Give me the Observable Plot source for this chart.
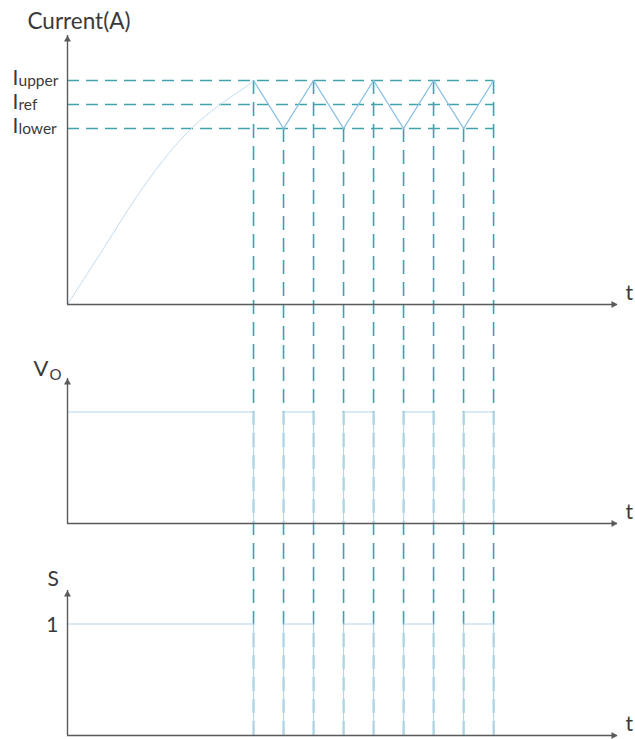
<!DOCTYPE html>
<html>
<head>
<meta charset="utf-8">
<script src="https://cdn.jsdelivr.net/npm/d3@7"></script>
<script src="https://cdn.jsdelivr.net/npm/@observablehq/plot@0.6"></script>
<style>
  html, body { margin: 0; padding: 0; background: #fff; }
  #chart { position: relative; width: 635px; height: 739px; overflow: hidden; background: #fff; }
  #chart svg { position: absolute; left: 0; }
</style>
</head>
<body>
<div id="chart"></div>
<script>
// Hysteresis (bang-bang) current control: inductor current, output voltage and switch state.

// Current band: upper limit, reference, lower limit (A)
const levelNames = ["upper", "ref", "lower"];
const levelValues = [11.2, 10, 8.8];

// Start-up rise of the current (time, A)
const rampT = [0, 1.2, 2.4, 3.4, 4.2, 5.0, 6.0, 6.2];
const rampI = [0, 2.8, 5.6, 7.6, 8.9, 9.9, 10.95, 11.2];

// Switching instants and the current reached at each one
const switchT = [6.2, 7.2, 8.2, 9.2, 10.2, 11.2, 12.2, 13.2, 14.2];
const switchI = [11.2, 8.8, 11.2, 8.8, 11.2, 8.8, 11.2, 8.8, 11.2];

// Switch state S (Vo follows it, per unit) holding from each instant onward
const stepT = [0, 6.2, 7.2, 8.2, 9.2, 10.2, 11.2, 12.2, 13.2, 14.2];
const stepS = [1, 0, 1, 0, 1, 0, 1, 0, 1, 0];

const tMax = 18.33;
const iMax = 13.45;
const vMax = 1.3;

const ramp = rampT.map((t, k) => ({t, i: rampI[k]}));
const sw = switchT.map((t, k) => ({t, i: switchI[k]}));
const steps = stepT.map((t, k) => ({t, s: stepS[k]}));
const levels = levelNames.map((n, k) => ({n, v: levelValues[k]}));

const W = 635;
const ink = "#3a3a3a";
const axisC = "#5a5a5a";
const teal = "#42a2aa";
const wave = "#8cc1e4";
const faint = "#b4d4ee";
const font = "Lato, 'Open Sans', sans-serif";

const txt = {textAnchor: "start", lineAnchor: "bottom", fill: ink, fontSize: 21};

// axis lines with filled arrowheads and the "t" label
function axes(yMax) {
  return [
    Plot.ruleX([0], {stroke: axisC, strokeWidth: 1.4}),
    Plot.ruleY([0], {stroke: axisC, strokeWidth: 1.4}),
    Plot.dot([{t: 0, y: yMax}], {x: "t", y: "y", symbol: "triangle", r: 2.6, fill: axisC, stroke: "none", dy: 4}),
    Plot.dot([{t: tMax, y: 0}], {x: "t", y: "y", symbol: "triangle", r: 2.6, fill: axisC, stroke: "none", rotate: 90, dx: -4}),
    Plot.text(["t"], {...txt, x: tMax, y: 0, text: d => d, dx: 8, dy: -5})
  ];
}

const dashV = {stroke: teal, strokeWidth: 1.6, strokeDasharray: "14,8"};

// Current panel
const current = Plot.plot({
  width: W, height: 345,
  marginLeft: 67, marginRight: 18, marginTop: 35, marginBottom: 41,
  x: {domain: [0, tMax], axis: null},
  y: {domain: [0, iMax], axis: null},
  style: {fontFamily: font, background: "transparent", overflow: "visible"},
  marks: [
    Plot.ruleY(levels, {y: "v", x1: 0, x2: switchT[switchT.length - 1], stroke: teal, strokeWidth: 1.6, strokeDasharray: "12,7"}),
    Plot.ruleX(sw, {x: "t", y1: "i", y2: 0, insetBottom: -41, ...dashV}),
    Plot.line(ramp, {x: "t", y: "i", curve: "catmull-rom", stroke: "#c2dcf1", strokeWidth: 1}),
    Plot.line(sw, {x: "t", y: "i", stroke: wave, strokeWidth: 1.4}),
    ...axes(iMax),
    Plot.text(["Current(A)"], {...txt, x: 0, y: iMax, text: d => d, dx: -40, dy: -7, fontSize: 22.5}),
    Plot.text(levels, {...txt, x: 0, y: "v", text: () => "I", dx: -55, dy: 4}),
    Plot.text(levels, {...txt, x: 0, y: "v", text: "n", dx: -49, dy: 5, fontSize: 15.5})
  ]
});
current.style.top = "0px";

// Output voltage panel
const vo = Plot.plot({
  width: W, height: 200,
  marginLeft: 67, marginRight: 18, marginTop: 33, marginBottom: 22,
  x: {domain: [0, tMax], axis: null},
  y: {domain: [0, vMax], axis: null},
  style: {fontFamily: font, background: "transparent", overflow: "visible"},
  marks: [
    Plot.ruleX(switchT, {insetTop: -33, insetBottom: -22, ...dashV}),
    Plot.line(steps, {x: "t", y: "s", curve: "step-after", stroke: faint, strokeWidth: 1.1}),
    ...axes(vMax),
    Plot.text(["V"], {...txt, x: 0, y: vMax, text: d => d, dx: -34, dy: -3, fontSize: 22}),
    Plot.text(["O"], {...txt, x: 0, y: vMax, text: d => d, dx: -18, dy: 1, fontSize: 15})
  ]
});
vo.style.top = "345px";

// Switch state panel
const sw2 = Plot.plot({
  width: W, height: 194,
  marginLeft: 67, marginRight: 18, marginTop: 45, marginBottom: 4,
  x: {domain: [0, tMax], axis: null},
  y: {domain: [0, vMax], axis: null},
  style: {fontFamily: font, background: "transparent", overflow: "visible"},
  marks: [
    Plot.ruleX(switchT, {insetTop: -45, ...dashV}),
    Plot.line(steps, {x: "t", y: "s", curve: "step-after", stroke: faint, strokeWidth: 1.1}),
    ...axes(vMax),
    Plot.text(["S"], {...txt, x: 0, y: vMax, text: d => d, dx: -20, dy: -5}),
    Plot.text(["1"], {...txt, x: 0, y: 1, text: d => d, dx: -9, dy: 8, textAnchor: "end"})
  ]
});
sw2.style.top = "545px";

const chart = document.getElementById("chart");
chart.append(current, vo, sw2);
</script>
</body>
</html>
